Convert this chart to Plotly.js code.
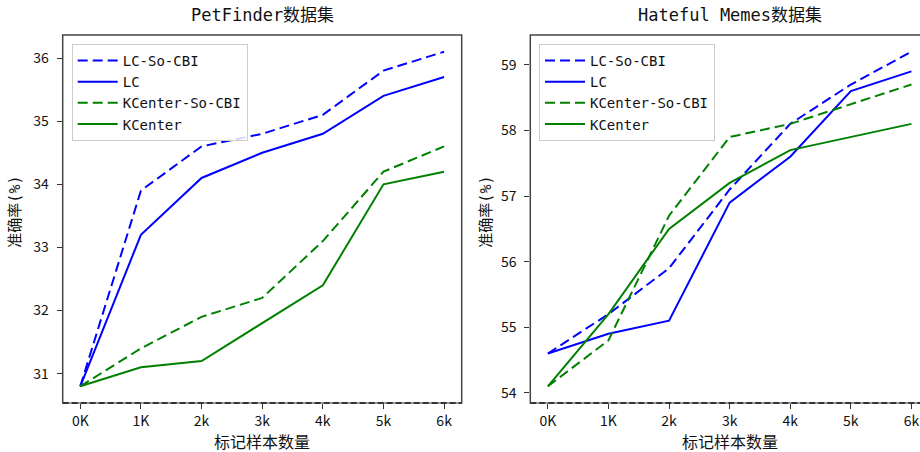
<!DOCTYPE html>
<html>
<head>
<meta charset="utf-8">
<script src="https://cdn.plot.ly/plotly-3.0.1.min.js"></script>
<style>
html,body{margin:0;padding:0;overflow:hidden;background:#fff;}
#chart{width:930px;height:452px;}
</style>
</head>
<body>
<div id="chart"></div>
<script>
// ---- data ----
const xLabels = ['0K', '1K', '2k', '3k', '4k', '5k', '6k'];
const seriesNames = ['LC-So-CBI', 'LC', 'KCenter-So-CBI', 'KCenter'];

// PetFinder
const petLcSo      = [30.8, 33.9, 34.6, 34.8, 35.1, 35.8, 36.1];
const petLc        = [30.8, 33.2, 34.1, 34.5, 34.8, 35.4, 35.7];
const petKcSo      = [30.8, 31.4, 31.9, 32.2, 33.1, 34.2, 34.6];
const petKc        = [30.8, 31.1, 31.2, 31.8, 32.4, 34.0, 34.2];

// Hateful Memes
const memeLcSo     = [54.6, 55.2, 55.9, 57.1, 58.1, 58.7, 59.2];
const memeLc       = [54.6, 54.9, 55.1, 56.9, 57.6, 58.6, 58.9];
const memeKcSo     = [54.1, 54.8, 56.7, 57.9, 58.1, 58.4, 58.7];
const memeKc       = [54.1, 55.2, 56.5, 57.2, 57.7, 57.9, 58.1];

const titles = ['PetFinder数据集', 'Hateful Memes数据集'];
const xTitle = '标记样本数量';
const yTitle = '准确率(%)';

// ---- styling ----
const FONT = 'DejaVu Sans Mono, Noto Sans CJK SC, sans-serif';
const TICKFONT = 'Noto Sans CJK SC, sans-serif';
const BLUE = '#0000ff', GREEN = '#008000';
const styles = [
  {color: BLUE, dash: '10px,5px'},
  {color: BLUE, dash: 'solid'},
  {color: GREEN, dash: '10px,5px'},
  {color: GREEN, dash: 'solid'}
];
const W = 930;
const px = v => v / W;

function mk(ys, i, xa, ya, leg) {
  return {
    x: xLabels, y: ys, type: 'scatter', mode: 'lines',
    name: seriesNames[i], xaxis: xa, yaxis: ya, legend: leg,
    line: {color: styles[i].color, dash: styles[i].dash, width: 2}
  };
}

const traces = [
  mk(petLcSo, 0, 'x', 'y', 'legend'),
  mk(petLc, 1, 'x', 'y', 'legend'),
  mk(petKcSo, 2, 'x', 'y', 'legend'),
  mk(petKc, 3, 'x', 'y', 'legend'),
  mk(memeLcSo, 0, 'x2', 'y2', 'legend2'),
  mk(memeLc, 1, 'x2', 'y2', 'legend2'),
  mk(memeKcSo, 2, 'x2', 'y2', 'legend2'),
  mk(memeKc, 3, 'x2', 'y2', 'legend2')
];

const tickFont = {family: TICKFONT, size: 14, color: '#111'};
function xax(domain, anchor) {
  return {
    domain: domain, anchor: anchor, type: 'category', range: [-0.29, 6.29],
    showgrid: false, zeroline: false, showline: false,
    ticks: 'outside', ticklen: 5, tickwidth: 1, tickcolor: '#333',
    tickfont: tickFont, fixedrange: true
  };
}
function yax(anchor, range, dtick) {
  return {
    anchor: anchor, domain: [0, 1], range: range, dtick: dtick,
    showgrid: false, zeroline: false, showline: false,
    ticks: 'outside', ticklen: 5, tickwidth: 1, tickcolor: '#333',
    tickfont: tickFont, ticklabelstandoff: 5, fixedrange: true
  };
}

const legBase = {
  font: {family: FONT, size: 14, color: '#111'},
  bgcolor: 'rgba(255,255,255,0.85)', bordercolor: '#cccccc', borderwidth: 1,
  xanchor: 'left', yanchor: 'top', itemwidth: 40, tracegroupgap: 0
};

const shapes = [];
['x', 'x2'].forEach((xa, k) => {
  const ya = k === 0 ? 'y' : 'y2';
  shapes.push({type: 'rect', xref: xa + ' domain', yref: ya + ' domain', x0: 0, x1: 1, y0: 0, y1: 1,
    line: {color: '#444', width: 1.5}, layer: 'above'});
  shapes.push({type: 'line', xref: xa + ' domain', yref: ya + ' domain', x0: 0, x1: 1, y0: 0, y1: 0,
    line: {color: '#9a9a9a', width: 2}, layer: 'above'});
  shapes.push({type: 'line', xref: xa + ' domain', yref: ya + ' domain', x0: 0, x1: 1, y0: 0, y1: 0,
    line: {color: '#333', width: 2, dash: '6px,3px'}, layer: 'above'});
});

const ann = [];
const centers = [(62.7 + 461.7) / 2, (530.3 + 929) / 2];
const yTitleX = [15, 486];
centers.forEach((c, k) => {
  ann.push({text: titles[k], xref: 'paper', yref: 'paper', x: px(c), y: 1, yshift: 20,
    xanchor: 'center', yanchor: 'middle', showarrow: false,
    font: {family: FONT, size: 17, color: '#111'}});
  ann.push({text: xTitle, xref: 'paper', yref: 'paper', x: px(c), y: 0, yshift: -39,
    xanchor: 'center', yanchor: 'middle', showarrow: false,
    font: {family: FONT, size: 16, color: '#111'}});
  ann.push({text: yTitle, xref: 'paper', yref: 'paper', x: px(yTitleX[k]), y: 0.52,
    xanchor: 'center', yanchor: 'middle', showarrow: false, textangle: -90,
    font: {family: FONT, size: 15, color: '#111'}});
});

const layout = {
  width: W, height: 452,
  margin: {l: 0, r: 0, t: 35, b: 49, pad: 0},
  paper_bgcolor: '#fff', plot_bgcolor: '#fff',
  showlegend: true,
  xaxis: xax([px(62.7), px(461.7)], 'y'),
  yaxis: yax('x', [30.535, 36.365], 1),
  xaxis2: xax([px(530.3), px(929)], 'y2'),
  yaxis2: yax('x2', [53.845, 59.455], 1),
  legend: Object.assign({}, legBase, {x: px(71.7), y: 0.976}),
  legend2: Object.assign({}, legBase, {x: px(539), y: 0.976}),
  shapes: shapes,
  annotations: ann
};

Plotly.newPlot('chart', traces, layout, {displayModeBar: false, staticPlot: true});
</script>
</body>
</html>
